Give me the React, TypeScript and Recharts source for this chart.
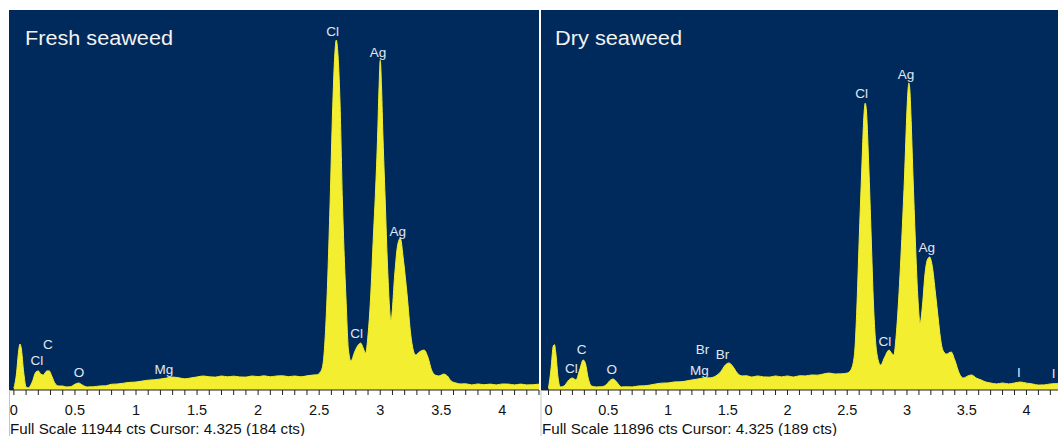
import React from "react";
import { AreaChart, Area, XAxis, YAxis, CartesianGrid, ReferenceDot } from "recharts";

// EDS spectra, energy in keV, intensity in counts
const freshEnergy = [
  0, 0.02, 0.04, 0.05, 0.06, 0.08, 0.1, 0.12, 0.15, 0.18, 0.2, 0.22, 0.24, 0.27, 0.29, 0.31, 0.34, 0.37, 0.4,
  0.43, 0.46, 0.5, 0.53, 0.56, 0.6, 0.65, 0.7, 0.75, 0.8, 0.85, 0.9, 0.95, 1, 1.05, 1.1, 1.15, 1.2, 1.25, 1.3,
  1.35, 1.4, 1.45, 1.5, 1.55, 1.6, 1.65, 1.7, 1.75, 1.8, 1.85, 1.9, 1.95, 2, 2.05, 2.1, 2.15, 2.2, 2.25, 2.3,
  2.35, 2.4, 2.45, 2.48, 2.51, 2.53, 2.56, 2.59, 2.61, 2.63, 2.64, 2.65, 2.67, 2.69, 2.72, 2.74, 2.76, 2.79,
  2.82, 2.84, 2.86, 2.88, 2.9, 2.92, 2.945, 2.96, 2.98, 2.99, 3, 3.01, 3.02, 3.04, 3.06, 3.088, 3.12, 3.14,
  3.164, 3.19, 3.22, 3.25, 3.27, 3.29, 3.32, 3.36, 3.39, 3.42, 3.45, 3.48, 3.52, 3.55, 3.58, 3.62, 3.66, 3.7,
  3.75, 3.8, 3.85, 3.9, 3.95, 4, 4.05, 4.1, 4.15, 4.2, 4.25, 4.3,
]
const freshCounts = [
  60, 470, 1260, 1445, 1320, 565, 95, 70, 250, 565, 600, 500, 470, 600, 600, 440, 190, 125, 125,
  95, 100, 180, 220, 160, 95, 100, 125, 130, 180, 190, 215, 240, 250, 280, 310, 320, 345, 375, 405,
  385, 350, 380, 410, 440, 415, 405, 440, 415, 435, 410, 405, 440, 420, 445, 415, 440, 445, 420, 440,
  415, 445, 470, 480, 565, 785, 2510, 5970, 8800, 10680, 11000, 10740, 9110, 5970, 2830, 1255, 910, 1195,
  1415, 1475, 1320, 1160, 1730, 2830, 4930, 6120, 8165, 9500, 10360, 9600, 8230, 6030, 3860, 2200, 3705, 4490,
  4770, 4080, 2985, 1730, 1255, 1100, 1195, 1255, 1035, 630, 470, 440, 500, 440, 285, 220, 190, 195,
  160, 190, 165, 185, 160, 190, 185, 160, 185, 160, 165, 185,
]

const dryEnergy = [
  0, 0.02, 0.04, 0.05, 0.06, 0.08, 0.1, 0.13, 0.17, 0.2, 0.23, 0.26, 0.29, 0.31, 0.33, 0.36, 0.4, 0.44, 0.48,
  0.52, 0.54, 0.57, 0.61, 0.66, 0.7, 0.75, 0.8, 0.85, 0.9, 0.95, 1, 1.05, 1.1, 1.15, 1.2, 1.25, 1.3, 1.35,
  1.4, 1.44, 1.48, 1.51, 1.54, 1.58, 1.62, 1.66, 1.7, 1.75, 1.8, 1.85, 1.9, 1.95, 2, 2.05, 2.1, 2.15, 2.2,
  2.25, 2.3, 2.35, 2.4, 2.45, 2.5, 2.53, 2.56, 2.58, 2.6, 2.62, 2.64, 2.65, 2.66, 2.68, 2.7, 2.72, 2.75,
  2.78, 2.81, 2.85, 2.87, 2.89, 2.91, 2.93, 2.96, 2.98, 3, 3.008, 3.016, 3.024, 3.03, 3.05, 3.07, 3.09, 3.11,
  3.13, 3.15, 3.17, 3.19, 3.21, 3.24, 3.26, 3.28, 3.3, 3.33, 3.37, 3.4, 3.44, 3.47, 3.51, 3.54, 3.58, 3.62,
  3.66, 3.7, 3.75, 3.8, 3.85, 3.9, 3.95, 4, 4.05, 4.1, 4.15, 4.2, 4.27,
]
const dryCounts = [
  60, 625, 1380, 1420, 1190, 375, 95, 125, 315, 375, 315, 625, 940, 815, 405, 125, 95, 100, 155,
  315, 345, 250, 95, 100, 95, 125, 130, 155, 190, 215, 220, 250, 255, 280, 315, 345, 375, 380,
  440, 565, 785, 845, 750, 530, 440, 445, 405, 440, 410, 405, 440, 410, 440, 405, 445, 440, 470,
  465, 500, 530, 500, 505, 530, 625, 1095, 2505, 4695, 6730, 8610, 8980, 8765, 7040, 4850, 2660, 1095,
  780, 1000, 1250, 1160, 1095, 1720, 2815, 5010, 6730, 8765, 9350, 9610, 9400, 8920, 6730, 4695, 2975, 2100,
  2660, 3600, 4070, 4165, 3910, 2975, 2285, 1630, 1250, 1125, 1190, 940, 500, 375, 440, 470, 375, 315,
  250, 220, 190, 220, 190, 220, 250, 215, 190, 155, 160, 190, 200,
]

const freshPeaks = [
  { label: "Cl", keV: 2.611, cts: 11262 },
  { label: "Ag", keV: 2.982, cts: 10623 },
  { label: "Ag", keV: 3.143, cts: 4997 },
  { label: "Cl", keV: 2.807, cts: 1792 },
  { label: "Cl", keV: 0.189, cts: 943 },
  { label: "C", keV: 0.278, cts: 1446 },
  { label: "O", keV: 0.533, cts: 544 },
  { label: "Mg", keV: 1.229, cts: 651 },
]
const dryPeaks = [
  { label: "Cl", keV: 2.621, cts: 9287 },
  { label: "Ag", keV: 2.992, cts: 9891 },
  { label: "Ag", keV: 3.165, cts: 4467 },
  { label: "Cl", keV: 2.816, cts: 1543 },
  { label: "Cl", keV: 0.192, cts: 685 },
  { label: "C", keV: 0.276, cts: 1265 },
  { label: "O", keV: 0.53, cts: 664 },
  { label: "Br", keV: 1.288, cts: 1265 },
  { label: "Mg", keV: 1.263, cts: 632 },
  { label: "Br", keV: 1.457, cts: 1136 },
  { label: "I", keV: 3.937, cts: 563 },
  { label: "I", keV: 4.228, cts: 532 },
]

const minorTicks = [
  0, 0.1, 0.2, 0.3, 0.4, 0.5, 0.6, 0.7, 0.8, 0.9, 1, 1.1, 1.2, 1.3, 1.4, 1.5, 1.6, 1.7, 1.8, 1.9, 2, 2.1, 2.2,
  2.3, 2.4, 2.5, 2.6, 2.7, 2.8, 2.9, 3, 3.1, 3.2, 3.3, 3.4, 3.5, 3.6, 3.7, 3.8, 3.9, 4, 4.1, 4.2, 4.3,
]
const majorTicks = [0, 0.5, 1, 1.5, 2, 2.5, 3, 3.5, 4]

const NAVY = "#002a5b"
const YELLOW = "#f4ee30"
const LABEL = "#e2e7f1"

function AxisTick({ x, y, payload }: any) {
  if (!majorTicks.includes(payload.value)) return <g />
  return (
    <text x={x} y={y + 18} textAnchor="middle" fontSize={14.5} fill="#111">
      {payload.value}
    </text>
  )
}

function Spectrum({ energy, counts, peaks, xDomain, width, fullScale, marginLeft, marginRight }: any) {
  const data = energy.map((e: number, i: number) => ({ keV: e, cts: counts[i] }))
  const ticks = minorTicks.filter((t) => t <= xDomain[1])
  return (
    <AreaChart
      width={width}
      height={436}
      data={data}
      margin={{ top: 10, right: marginRight, bottom: 16, left: marginLeft }}
    >
      <CartesianGrid horizontal={false} vertical={false} fill={NAVY} stroke="none" />
      <XAxis
        dataKey="keV"
        type="number"
        domain={xDomain}
        allowDataOverflow
        ticks={ticks}
        interval={0}
        height={30}
        tickSize={5}
        tickMargin={2}
        stroke="#222"
        tick={<AxisTick />}
      />
      <YAxis hide type="number" domain={[0, fullScale]} allowDataOverflow />
      <Area
        dataKey="cts"
        type="monotone"
        stroke={YELLOW}
        strokeWidth={1}
        fill={YELLOW}
        fillOpacity={1}
        isAnimationActive={false}
      />
      {peaks.map((p: any, i: number) => (
        <ReferenceDot
          key={i}
          x={p.keV}
          y={p.cts}
          r={0}
          fill="none"
          stroke="none"
          label={{ value: p.label, position: "center", fill: LABEL, fontSize: 13.5 }}
        />
      ))}
    </AreaChart>
  )
}

export default function App() {
  return (
    <div
      style={{
        position: "absolute",
        left: 0,
        top: 0,
        width: 1058,
        height: 436,
        background: "#fff",
        overflow: "hidden",
        fontFamily: "'Liberation Sans', Arial, sans-serif",
      }}
    >
      <div style={{ position: "absolute", left: 0, top: 0 }}>
        <Spectrum
          energy={freshEnergy}
          counts={freshCounts}
          peaks={freshPeaks}
          xDomain={[-0.04, 4.3]}
          width={540}
          fullScale={11944}
          marginLeft={9}
          marginRight={1}
        />
      </div>
      <div style={{ position: "absolute", left: 541, top: 0 }}>
        <Spectrum
          energy={dryEnergy}
          counts={dryCounts}
          peaks={dryPeaks}
          xDomain={[-0.063, 4.264]}
          width={517}
          fullScale={11896}
          marginLeft={0}
          marginRight={0}
        />
      </div>
      <svg width={1058} height={436} style={{ position: "absolute", left: 0, top: 0, pointerEvents: "none" }}>
        <text x={25} y={45} fontSize={20} fill="#f2f2f2" textLength={148} lengthAdjust="spacingAndGlyphs">
          Fresh seaweed
        </text>
        <text x={555} y={45} fontSize={20} fill="#f2f2f2" textLength={127} lengthAdjust="spacingAndGlyphs">
          Dry seaweed
        </text>
        <line x1={9.5} y1={390} x2={9.5} y2={436} stroke="#b9c6da" strokeWidth={1} />
        <line x1={541} y1={390} x2={541} y2={436} stroke="#c8c8c8" strokeWidth={1} />
        <text x={10} y={433.5} fontSize={14} fill="#111" textLength={295} lengthAdjust="spacingAndGlyphs">
          Full Scale 11944 cts Cursor: 4.325  (184 cts)
        </text>
        <text x={542} y={433.5} fontSize={14} fill="#111" textLength={295} lengthAdjust="spacingAndGlyphs">
          Full Scale 11896 cts Cursor: 4.325  (189 cts)
        </text>
      </svg>
    </div>
  )
}
